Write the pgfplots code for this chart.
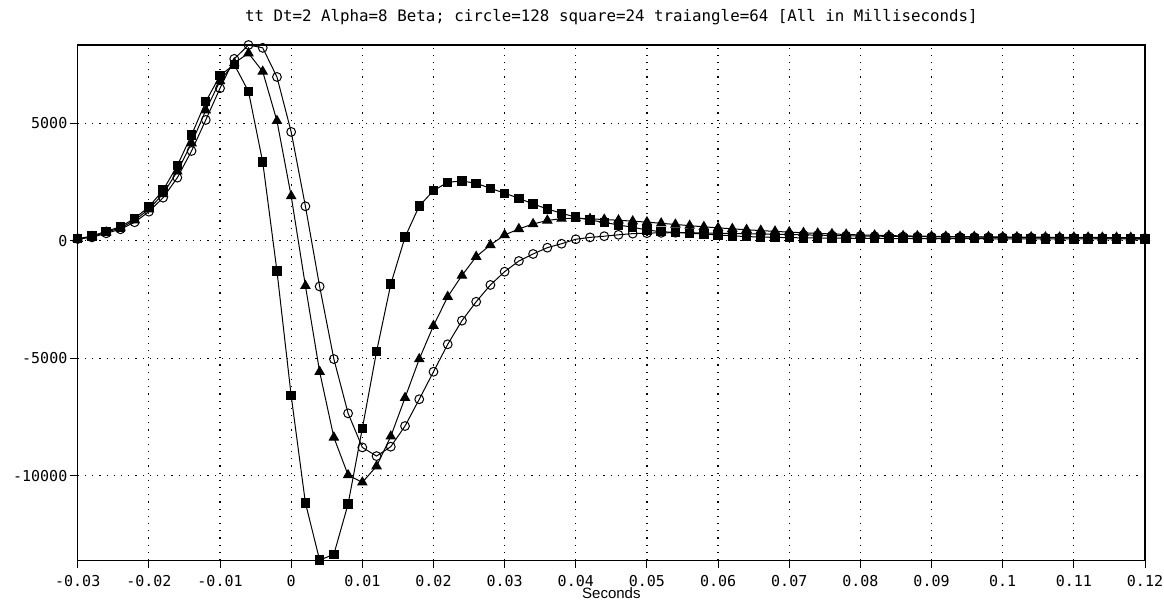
\documentclass[border=0pt]{standalone}
\usepackage{fontspec}
\setmainfont{DejaVu Sans Mono}
\newfontfamily\labfont{Liberation Sans}
\usepackage{pgfplots}
\usepackage{pgfplotstable}
\pgfplotsset{compat=1.18}

\pgfplotstableread{
x y
-0.030 70
-0.028 140
-0.026 315
-0.024 485
-0.022 784
-0.020 1235
-0.018 1830
-0.016 2683
-0.014 3820
-0.012 5140
-0.010 6490
-0.008 7740
-0.006 8330
-0.004 8210
-0.002 6970
0.000 4630
0.002 1465
0.004 -1950
0.006 -5040
0.008 -7350
0.010 -8800
0.012 -9170
0.014 -8770
0.016 -7890
0.018 -6750
0.020 -5580
0.022 -4410
0.024 -3405
0.026 -2600
0.028 -1885
0.030 -1320
0.032 -865
0.034 -566
0.036 -298
0.038 -130
0.040 60
0.042 140
0.044 190
0.046 250
0.048 300
0.050 320
0.052 335
0.054 340
0.056 338
0.058 330
0.060 320
0.062 308
0.064 296
0.066 284
0.068 272
0.070 260
0.072 248
0.074 236
0.076 224
0.078 212
0.080 200
0.082 192
0.084 185
0.086 178
0.088 171
0.090 165
0.092 160
0.094 155
0.096 150
0.098 145
0.100 140
0.102 136
0.104 132
0.106 128
0.108 124
0.110 120
0.112 116
0.114 112
0.116 108
0.118 104
0.120 100
}\circledata

\pgfplotstableread{
x y
-0.030 80
-0.028 170
-0.026 360
-0.024 540
-0.022 870
-0.020 1340
-0.018 1990
-0.016 2950
-0.014 4150
-0.012 5550
-0.010 6800
-0.008 7560
-0.006 7980
-0.004 7200
-0.002 5100
0.000 1900
0.002 -1920
0.004 -5580
0.006 -8375
0.008 -9980
0.010 -10290
0.012 -9600
0.014 -8330
0.016 -6690
0.018 -5040
0.020 -3620
0.022 -2385
0.024 -1480
0.026 -680
0.028 -183
0.030 243
0.032 500
0.034 711
0.036 860
0.038 940
0.040 950
0.042 930
0.044 900
0.046 870
0.048 830
0.050 790
0.052 740
0.054 690
0.056 640
0.058 590
0.060 545
0.062 505
0.064 465
0.066 430
0.068 395
0.070 365
0.072 335
0.074 310
0.076 285
0.078 265
0.080 245
0.082 230
0.084 215
0.086 205
0.088 195
0.090 185
0.092 178
0.094 172
0.096 167
0.098 162
0.100 158
0.102 154
0.104 150
0.106 147
0.108 144
0.110 141
0.112 138
0.114 135
0.116 133
0.118 131
0.120 129
}\triangledata

\pgfplotstableread{
x y
-0.030 80
-0.028 200
-0.026 400
-0.024 590
-0.022 950
-0.020 1440
-0.018 2150
-0.016 3200
-0.014 4500
-0.012 5920
-0.010 7030
-0.008 7500
-0.006 6350
-0.004 3350
-0.002 -1290
0.000 -6600
0.002 -11160
0.004 -13600
0.006 -13350
0.008 -11210
0.010 -7990
0.012 -4720
0.014 -1850
0.016 150
0.018 1478
0.020 2130
0.022 2487
0.024 2540
0.026 2444
0.028 2230
0.030 2020
0.032 1805
0.034 1563
0.036 1350
0.038 1167
0.040 1000
0.042 880
0.044 780
0.046 668
0.048 570
0.050 455
0.052 380
0.054 355
0.056 315
0.058 285
0.060 243
0.062 205
0.064 175
0.066 155
0.068 140
0.070 130
0.072 120
0.074 115
0.076 110
0.078 105
0.080 100
0.082 95
0.084 92
0.086 90
0.088 88
0.090 86
0.092 85
0.094 84
0.096 83
0.098 82
0.100 81
0.102 80
0.104 79
0.106 78
0.108 77
0.110 76
0.112 75
0.114 74
0.116 73
0.118 72
0.120 70
}\squaredata

\begin{document}
\begin{tikzpicture}
\begin{axis}[
  scale only axis,
  width=533.5pt, height=257.5pt,
  xmin=-0.03, xmax=0.12,
  ymin=-13600, ymax=8330,
  scaled x ticks=false, scaled y ticks=false,
  axis line style={black, line width=0.6pt},
  xtick={-0.03,-0.02,-0.01,0,0.01,0.02,0.03,0.04,0.05,0.06,0.07,0.08,0.09,0.1,0.11,0.12},
  xticklabels={-0.03,-0.02,-0.01,0,0.01,0.02,0.03,0.04,0.05,0.06,0.07,0.08,0.09,0.1,0.11,0.12},
  ytick={-10000,-5000,0,5000},
  yticklabels={-10000,-5000,0,5000},
  tick align=outside,
  xtick pos=left, ytick pos=left,
  major tick length=4pt,
  tick style={black, line width=0.5pt},
  every tick label/.append style={font=\fontsize{7.5}{9}\selectfont},
  yticklabel style={inner sep=1pt},
  grid=major,
  major grid style={black, line width=0.6pt, dash pattern=on 0.6pt off 3pt},
  every axis title/.style={at={(0.5,1)}, anchor=center, yshift=14pt, font=\fontsize{7.9}{9}\selectfont},
  title={tt Dt=2 Alpha=8 Beta; circle=128 square=24 traiangle=64 [All in Milliseconds]},
  xlabel={Seconds},
  every axis x label/.style={at={(0.5,0)}, anchor=center, yshift=-16.5pt, font=\labfont\fontsize{7.5}{8}\selectfont},
  every axis plot/.append style={black, line width=0.5pt},
  clip=true,
]
\coordinate (bl) at (rel axis cs:0,0);
\coordinate (tr) at (rel axis cs:1,1);
\addplot[mark=o, mark size=2.2pt, mark options={solid, black, line width=0.5pt}] table[x=x,y=y] {\circledata};
\addplot[mark=triangle*, mark size=2.6pt, mark options={solid, black, fill=black}] table[x=x,y=y] {\triangledata};
\addplot[mark=square*, mark size=2.1pt, mark options={solid, black, fill=black}] table[x=x,y=y] {\squaredata};
\end{axis}
\pgfresetboundingbox
\path ([shift={(-38.85pt,-19.5pt)}]bl) rectangle ([shift={(9.5pt,22.5pt)}]tr);
\end{tikzpicture}
\end{document}
